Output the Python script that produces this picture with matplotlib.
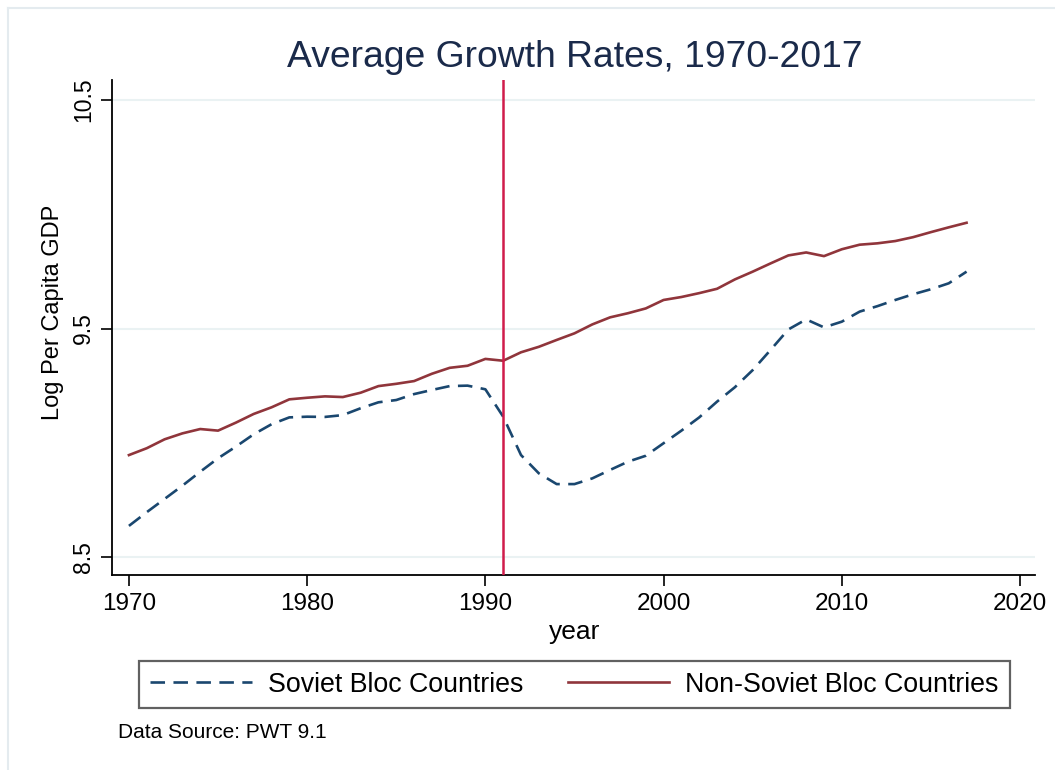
import matplotlib
matplotlib.use("Agg")
import matplotlib.pyplot as plt
from matplotlib.lines import Line2D

plt.rcParams['font.family'] = ['Liberation Sans', 'DejaVu Sans']

years = list(range(1970, 2018))
soviet = [8.636, 8.696, 8.754, 8.812, 8.873, 8.932, 8.983, 9.037, 9.081, 9.111,
          9.114, 9.113, 9.121, 9.151, 9.177, 9.187, 9.213, 9.231, 9.248, 9.250,
          9.234, 9.114, 8.946, 8.866, 8.819, 8.819, 8.844, 8.881, 8.917, 8.943,
          8.998, 9.053, 9.111, 9.180, 9.243, 9.318, 9.406, 9.496, 9.540, 9.505,
          9.530, 9.574, 9.598, 9.625, 9.650, 9.672, 9.698, 9.749]
non_soviet = [8.946, 8.976, 9.015, 9.041, 9.060, 9.053, 9.088, 9.126, 9.155, 9.190,
              9.197, 9.203, 9.200, 9.219, 9.248, 9.258, 9.270, 9.302, 9.328, 9.337,
              9.367, 9.359, 9.396, 9.420, 9.450, 9.479, 9.518, 9.549, 9.567, 9.588,
              9.625, 9.638, 9.655, 9.674, 9.715, 9.749, 9.785, 9.820, 9.833, 9.817,
              9.847, 9.867, 9.873, 9.883, 9.900, 9.922, 9.943, 9.963]
x_ticks = [1970, 1980, 1990, 2000, 2010, 2020]
y_ticks = [8.5, 9.5, 10.5]
event_year = 1991
labels = ["Soviet Bloc Countries", "Non-Soviet Bloc Countries"]

W, H = 1055, 770
fig = plt.figure(figsize=(W / 100, H / 100), dpi=100)
fig.patch.set_facecolor('white')
# light outer frame (top and left edges visible)
fig.add_artist(Line2D([8 / W, 1.0], [1 - 8 / H, 1 - 8 / H], transform=fig.transFigure,
                      color='#e4ebef', linewidth=1.5))
fig.add_artist(Line2D([8 / W, 8 / W], [0.0, 1 - 8 / H], transform=fig.transFigure,
                      color='#e4ebef', linewidth=1.5))

ax = fig.add_axes([112 / W, 195 / H, 923 / W, 495 / H])
ax.set_xlim(1969.05, 2020.84)
ax.set_ylim(8.421, 10.588)

for y in y_ticks:
    ax.axhline(y, color='#eaf2f3', linewidth=1.5, zorder=0)

ax.plot(years, soviet, color='#1a476f', linewidth=1.9, dashes=(5.5, 3.2),
        label=labels[0], zorder=3)
ax.plot(years, non_soviet, color='#90353b', linewidth=1.9,
        label=labels[1], zorder=3)
ax.axvline(event_year, color='#d01c4b', linewidth=1.8, zorder=4)

ax.set_xticks(x_ticks)
ax.set_yticks(y_ticks)
ax.set_yticklabels([str(v) for v in y_ticks], rotation=90, va='center')
ax.tick_params(axis='both', direction='out', length=8, width=1.2,
               colors='black', pad=5)
ax.tick_params(axis='x', labelsize=17.5)
ax.tick_params(axis='y', labelsize=16.5, pad=4)
for s in ['top', 'right']:
    ax.spines[s].set_visible(False)
for s in ['left', 'bottom']:
    ax.spines[s].set_linewidth(1.3)
    ax.spines[s].set_color('black')

ax.set_xlabel('year', fontsize=19)
ax.xaxis.label.set_va('baseline')
ax.xaxis.set_label_coords((575 - 112) / 923, (575 - 639) / 495)
ax.set_ylabel('Log Per Capita GDP', fontsize=17)
ax.yaxis.label.set_va('center')
ax.yaxis.set_label_coords((53 - 112) / 923, (575 - 312.5) / 495)

fig.text(575 / W, 1 - 67 / H, 'Average Growth Rates, 1970-2017',
         ha='center', va='baseline', fontsize=26.8, color='#1a2a4a')

leg = fig.legend(loc='center', bbox_to_anchor=(574.5 / W, 1 - 684.5 / H), ncol=2,
                 fontsize=19.3, frameon=True, fancybox=False, handlelength=3.77,
                 handletextpad=0.6, columnspacing=1.68, borderpad=0.41,
                 borderaxespad=0)
leg.get_frame().set_edgecolor('#3a3a3a')
leg.get_frame().set_linewidth(1.6)

fig.text(118 / W, 1 - 733 / H, 'Data Source: PWT 9.1', ha='left', va='center',
         fontsize=15, color='black')

fig.savefig('out.png', dpi=100, facecolor='white')
